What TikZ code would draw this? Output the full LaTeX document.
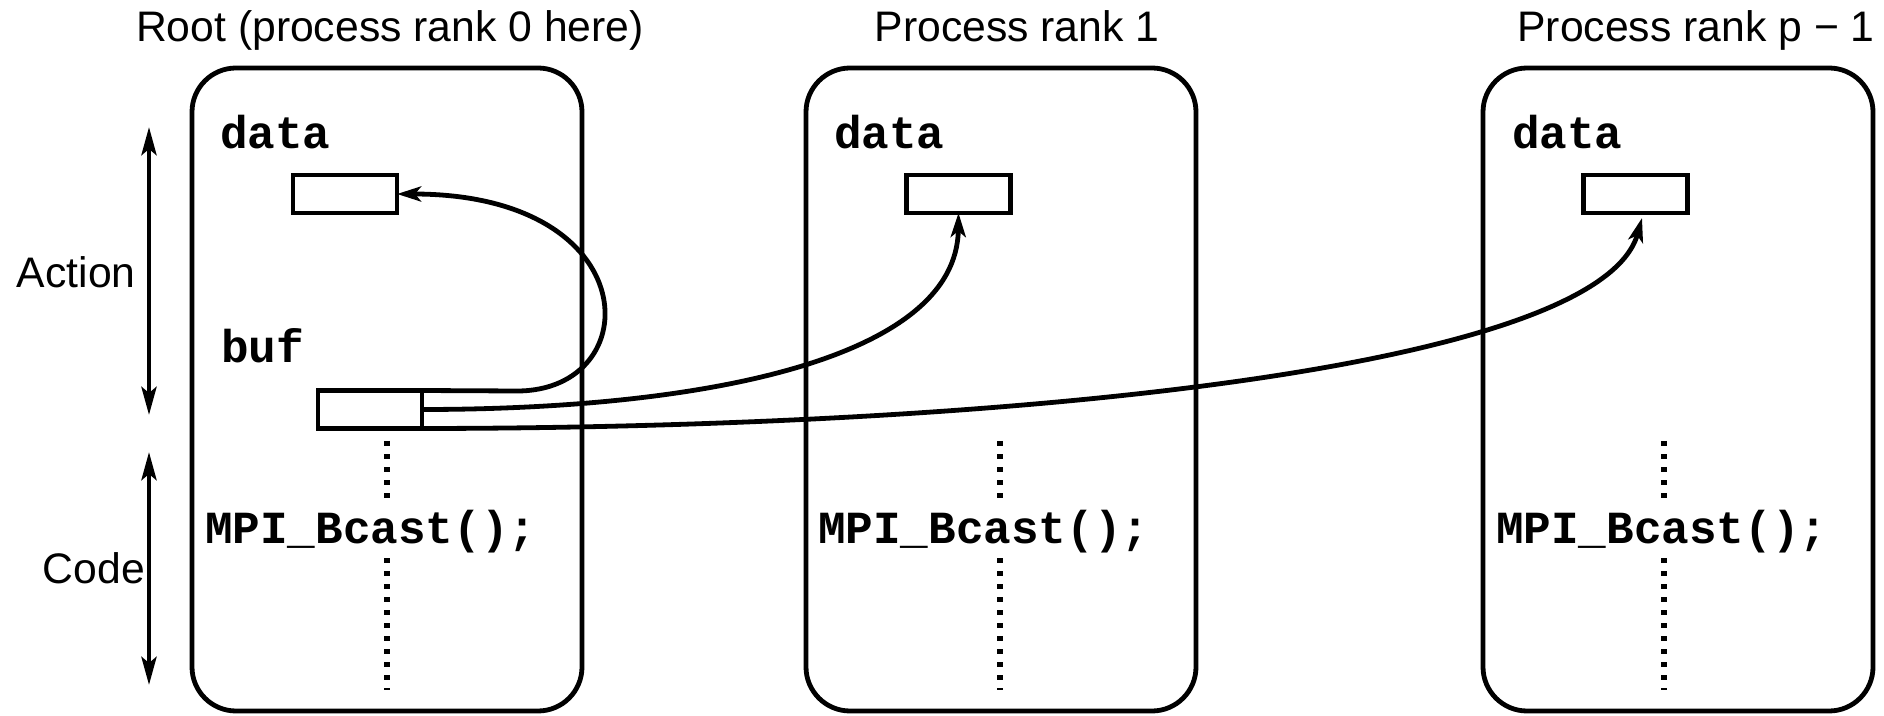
\documentclass[tikz,border=0pt]{standalone}
\usepackage{fontspec}
\setmainfont{Liberation Sans}
\newfontfamily\codefont{Liberation Mono}
\usetikzlibrary{arrows.meta}
\begin{document}
\begin{tikzpicture}[x=0.5pt,y=-0.5pt,
  every node/.style={inner sep=0pt, outer sep=0pt},
  title/.style={font=\fontsize{21.35}{25}\selectfont, anchor=base},
  side/.style={font=\fontsize{21.35}{25}\selectfont},
  code/.style={font={\codefont\bfseries\fontsize{23}{27}\selectfont}, anchor=base west},
  procbox/.style={draw, line width=2.4pt, rounded corners=22pt, minimum width=195pt, minimum height=321.5pt},
  cell/.style={draw, line width=2.4pt, minimum width=52pt, minimum height=19pt},
  flow/.style={line width=2.4pt, -{Stealth[length=12pt,width=7.5pt,inset=3pt]}},
  span/.style={line width=2.4pt, {Stealth[length=14pt,width=7.5pt,inset=3pt]}-{Stealth[length=14pt,width=7.5pt,inset=3pt]}},
  dots/.style={line width=2.6pt, dash pattern=on 2.4pt off 4.1pt}
]
\useasboundingbox (0,0) rectangle (1884,716);

% titles
\node[title] (t0) at (390,42) {Root (process rank 0 here)};
\node[title] (t1) at (1017,42) {Process rank 1};
\node[title] (t2) at (1696,42) {Process rank p − 1};

% process boxes
\node[procbox] (p0) at (387,389.5) {};
\node[procbox] (p1) at (1001,389.5) {};
\node[procbox] (p2) at (1678,389.5) {};

% side labels and arrows
\node[side, anchor=base west] (act) at (17,288) {Action};
\node[side, anchor=base east] (cod) at (145,583) {Code};
\coordinate (a1) at (149,127);
\coordinate (a2) at (149,415);
\coordinate (c1) at (149,452);
\coordinate (c2) at (149,685);
\draw[span] (a1) -- (a2);
\draw[span] (c1) -- (c2);

% labels
\node[code] (l0) at (220,149) {data};
\node[code] (l1) at (834,149) {data};
\node[code] (l2) at (1512,149) {data};
\node[code] (lb) at (221,363) {buf};
\node[code] (m0) at (205,543) {MPI\_Bcast();};
\node[code] (m1) at (818,543) {MPI\_Bcast();};
\node[code] (m2) at (1496,543) {MPI\_Bcast();};

% cells
\node[cell] (d0) at (345,194) {};
\node[cell] (d1) at (958.5,194) {};
\node[cell] (d2) at (1635.5,194) {};
\node[cell] (b) at (370,409.5) {};

% dotted code lines
\draw[dots] (387,441) -- (387,500);
\draw[dots] (387,558) -- (387,690);
\draw[dots] (1000,441) -- (1000,500);
\draw[dots] (1000,558) -- (1000,690);
\draw[dots] (1664,441) -- (1664,500);
\draw[dots] (1664,558) -- (1664,690);

% broadcast connectors
\coordinate (bend) at (517,391);
\draw[flow] (b.north east) -- (bend) .. controls (648,391) and (648,194) .. (d0.east);
\draw[flow] (b.east) .. controls (700,409.5) and (957,360) .. (d1.south);
\draw[flow] (b.south east) .. controls (1000,428) and (1600,370) .. ([xshift=3.25pt,yshift=-2.5pt]d2.south);
\end{tikzpicture}
\end{document}
